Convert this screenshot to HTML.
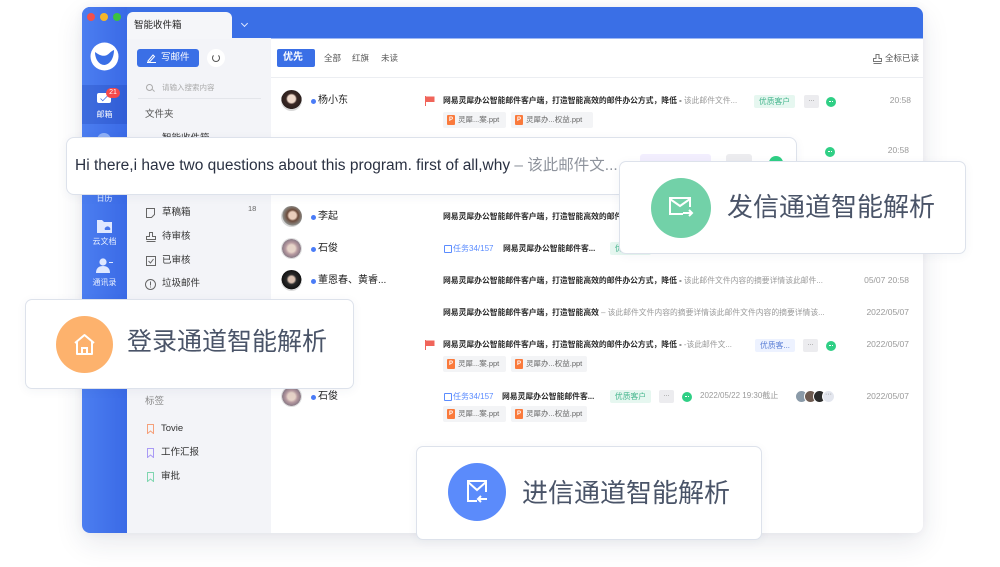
<!DOCTYPE html>
<html><head><meta charset="utf-8">
<style>
*{box-sizing:border-box;}
body{margin:0;width:1000px;height:567px;position:relative;overflow:hidden;background:#fff;font-family:"Liberation Sans","Noto Sans CJK SC",sans-serif;}
.s{position:absolute;white-space:nowrap;line-height:1;}
.av{position:absolute;width:21px;height:21px;border-radius:50%;}
.dot{position:absolute;width:5px;height:5px;border-radius:50%;background:#4a7cf7;}
.nm{position:absolute;white-space:nowrap;line-height:1;font-size:10px;color:#222;}
.sub{position:absolute;white-space:nowrap;line-height:1;font-size:7.8px;color:#2c2c2c;font-weight:bold;}
.gr{font-weight:normal;color:#9a9a9a;}
.tm{position:absolute;white-space:nowrap;line-height:1;font-size:8.5px;color:#9a9a9a;text-align:right;width:60px;}
.tag{position:absolute;height:13px;border-radius:2px;font-size:7.8px;line-height:13px;text-align:center;white-space:nowrap;}
.tg{background:#e6f7f0;color:#43b58c;}
.tb{background:#edf2ff;color:#5b7fd6;}
.more{position:absolute;width:15px;height:13px;background:#ececef;border-radius:2px;color:#888;font-size:7px;line-height:10px;text-align:center;}
.wx{position:absolute;width:10px;height:10px;border-radius:50%;background:#2fcf85;}
.wx:after{content:"";position:absolute;left:3px;top:4px;width:4px;height:2px;border-top:1px dotted #fff;}
.att{position:absolute;height:16px;background:#f3f4f6;border-radius:2px;font-size:7.5px;color:#666;line-height:16px;white-space:nowrap;padding-left:15px;}
.att:before{content:"P";position:absolute;left:4px;top:3px;width:8px;height:10px;background:#fa7a3c;border-radius:1px;color:#fff;font-size:6px;line-height:10px;text-align:center;font-weight:bold;}
.flag{position:absolute;width:10px;height:10px;}
.task{position:absolute;white-space:nowrap;line-height:1;font-size:8px;color:#5b8cff;padding-left:9px;}
.task:before{content:"";position:absolute;left:0;top:0;width:6px;height:6px;border:1px solid #5b8cff;border-radius:1px;}
.fi{position:absolute;white-space:nowrap;line-height:1;font-size:9.5px;color:#333;}
.card{position:absolute;background:#fff;border:1px solid #dde2eb;border-radius:7px;box-shadow:0 2px 10px rgba(40,60,100,.05);}
.big{position:absolute;white-space:nowrap;line-height:1;font-size:26px;color:#4a5468;}
.circ{position:absolute;border-radius:50%;}
.sbt{position:absolute;width:45px;text-align:center;font-size:8px;color:#e6eeff;line-height:1;left:82px;}
</style></head><body>

<!-- app window -->
<div style="position:absolute;left:82px;top:7px;width:841px;height:526px;border-radius:8px;overflow:hidden;background:#fff;box-shadow:0 10px 28px rgba(30,40,80,.10),0 0 10px rgba(30,40,80,.05);">
  <div style="position:absolute;left:0;top:0;width:841px;height:31px;background:#3a6fe6;"></div>
  <div style="position:absolute;left:0;top:0;width:45px;height:526px;background:linear-gradient(90deg,#4c7ef0,#3a6ae6);"></div>
  <div style="position:absolute;left:0;top:78px;width:45px;height:39px;background:rgba(20,50,160,.22);"></div>
  <div style="position:absolute;left:45px;top:31px;width:144px;height:495px;background:#f3f4f8;"></div>
  <div style="position:absolute;left:45px;top:5px;width:105px;height:27px;background:#f5f6f9;border-radius:6px 6px 0 0;"></div>
  <div style="position:absolute;left:189px;top:31px;width:652px;height:1px;background:#9db8f5;"></div>
</div>

<!-- traffic lights -->
<div class="circ" style="left:87px;top:13px;width:8px;height:8px;background:#f2504b;"></div>
<div class="circ" style="left:100px;top:13px;width:8px;height:8px;background:#f6b62a;"></div>
<div class="circ" style="left:113px;top:13px;width:8px;height:8px;background:#3cc23f;"></div>
<div class="s" style="left:134px;top:21px;font-size:9.5px;color:#222;">智能收件箱</div>
<div style="position:absolute;left:242px;top:21px;width:5px;height:5px;border-right:1px solid #dfe8ff;border-bottom:1px solid #dfe8ff;transform:rotate(45deg);"></div>

<!-- sidebar -->
<svg style="position:absolute;left:90px;top:42px;" width="29" height="29" viewBox="0 0 29 29">
  <circle cx="14.5" cy="14.5" r="14" fill="#fff"/>
  <path d="M5 10 C9 13,13 15,17 13 C19 12,21 9,24 8 C24 15,21 22,14.5 23 C9 23,5 17,5 10Z" fill="#3a6fe6"/>
</svg>
<div style="position:absolute;left:97px;top:93px;width:14px;height:10px;background:#fff;border-radius:2px;"></div>
<div style="position:absolute;left:99px;top:95px;width:10px;height:5px;border-left:1px solid #3a6ae6;border-bottom:1px solid #3a6ae6;transform:rotate(-45deg) scale(.7);"></div>
<div style="position:absolute;left:106px;top:88px;width:14px;height:10px;background:#f5484a;border-radius:5px;color:#fff;font-size:7px;line-height:10px;text-align:center;">21</div>
<div class="sbt" style="top:111px;color:#fff;">邮箱</div>
<div class="circ" style="left:97px;top:133px;width:14px;height:14px;background:#8fb0f6;"></div>
<div class="sbt" style="top:195px;">日历</div>
<svg style="position:absolute;left:97px;top:219px;" width="15" height="14" viewBox="0 0 15 14"><path d="M0 1h5l2 2h8v11H0z" fill="#dfe8ff"/><path d="M8 11a2 2 0 0 1 1-3a2.5 2.5 0 0 1 4 1a1.5 1.5 0 0 1 0 2z" fill="#4a78ec"/></svg>
<div class="sbt" style="top:238px;">云文档</div>
<svg style="position:absolute;left:96px;top:258px;" width="17" height="15" viewBox="0 0 17 15"><circle cx="7" cy="4" r="3.6" fill="#dfe8ff"/><path d="M0 15c0-5 3-7 7-7s7 2 7 7z" fill="#dfe8ff"/><rect x="13" y="4" width="4" height="1" fill="#dfe8ff"/></svg>
<div class="sbt" style="top:279px;">通讯录</div>

<!-- folder pane -->
<div style="position:absolute;left:137px;top:49px;width:62px;height:18px;background:#3a6fe6;border-radius:3px;"></div>
<svg style="position:absolute;left:147px;top:53px;" width="9" height="10" viewBox="0 0 9 10"><path d="M1 8L6 2l1.5 1.5L2.5 9H1z" fill="none" stroke="#fff" stroke-width="1"/><path d="M0 9.5h9" stroke="#fff"/></svg>
<div class="s" style="left:161px;top:53px;font-size:9.5px;color:#fff;">写邮件</div>
<div class="circ" style="left:207px;top:49px;width:18px;height:18px;background:#fff;"></div>
<div class="circ" style="left:212px;top:54px;width:8px;height:8px;border:1px solid #555;border-top-color:transparent;"></div>
<div class="circ" style="left:146px;top:84px;width:7px;height:7px;border:1px solid #aaa;"></div>
<div style="position:absolute;left:152px;top:90px;width:3px;height:1px;background:#aaa;transform:rotate(45deg);"></div>
<div class="s" style="left:162px;top:84px;font-size:7.5px;color:#aaa;">请输入搜索内容</div>
<div style="position:absolute;left:138px;top:98px;width:123px;height:1px;background:#e3e5ea;"></div>
<div class="fi" style="left:145px;top:110px;color:#555;">文件夹</div>
<div class="fi" style="left:162px;top:134px;">智能收件箱</div>

<svg style="position:absolute;left:146px;top:208px;" width="9" height="10"><path d="M0.5 0.5h8v6l-3 3h-5z" fill="none" stroke="#666"/></svg>
<div class="fi" style="left:162px;top:208px;">草稿箱</div>
<div class="s" style="left:248px;top:205px;font-size:7.5px;color:#666;">18</div>
<svg style="position:absolute;left:146px;top:232px;" width="10" height="10"><path d="M3.5 0.5h3v4h3v3h-9v-3h3z M0.5 9.5h9" fill="none" stroke="#666"/></svg>
<div class="fi" style="left:162px;top:232px;">待审核</div>
<svg style="position:absolute;left:146px;top:256px;" width="10" height="10"><rect x="0.5" y="0.5" width="9" height="9" fill="none" stroke="#666"/><path d="M2.5 5l2 2 3-4" fill="none" stroke="#666"/></svg>
<div class="fi" style="left:162px;top:256px;">已审核</div>
<svg style="position:absolute;left:145px;top:279px;" width="11" height="11"><circle cx="5.5" cy="5.5" r="5" fill="none" stroke="#666"/><path d="M5.5 2.5v4M5.5 7.5v1" stroke="#666"/></svg>
<div class="fi" style="left:162px;top:279px;">垃圾邮件</div>

<div class="fi" style="left:145px;top:397px;color:#888;">标签</div>
<svg style="position:absolute;left:147px;top:424px;" width="7" height="10"><path d="M0.5 0.5h6v9l-3-2.5-3 2.5z" fill="none" stroke="#f5a07a"/></svg>
<div class="fi" style="left:161px;top:424px;">Tovie</div>
<svg style="position:absolute;left:147px;top:448px;" width="7" height="10"><path d="M0.5 0.5h6v9l-3-2.5-3 2.5z" fill="none" stroke="#a99af5"/></svg>
<div class="fi" style="left:161px;top:448px;">工作汇报</div>
<svg style="position:absolute;left:147px;top:472px;" width="7" height="10"><path d="M0.5 0.5h6v9l-3-2.5-3 2.5z" fill="none" stroke="#7fd6b0"/></svg>
<div class="fi" style="left:161px;top:472px;">审批</div>

<!-- main tabs -->
<div style="position:absolute;left:277px;top:49px;width:38px;height:18px;background:#3a6fe6;border-radius:2px;"></div>
<div class="s" style="left:283px;top:53px;font-size:10px;color:#fff;font-weight:bold;">优先</div>
<div class="s" style="left:324px;top:54px;font-size:8.5px;color:#555;">全部</div>
<div class="s" style="left:352px;top:54px;font-size:8.5px;color:#555;">红旗</div>
<div class="s" style="left:381px;top:54px;font-size:8.5px;color:#555;">未读</div>
<svg style="position:absolute;left:873px;top:54px;" width="9" height="10"><path d="M3 0.5h3v4h2.5v3h-8v-3H3z M0.5 9.5h8" fill="none" stroke="#777"/></svg>
<div class="s" style="left:885px;top:54px;font-size:8.5px;color:#555;">全标已读</div>
<div style="position:absolute;left:271px;top:77px;width:652px;height:1px;background:#eceef2;"></div>

<!-- row1 -->
<div class="av" style="left:281px;top:90px;background:radial-gradient(circle at 50% 42%,#efd9cb 0 24%,#3a2824 34%,#2b1f1d 62%,#d9d9d9 64%);"></div>
<div class="dot" style="left:311px;top:99px;"></div>
<div class="nm" style="left:318px;top:96px;">杨小东</div>
<svg class="flag" style="left:425px;top:96px;"><path d="M0.5 0v10" stroke="#f0645a"/><path d="M1 0.5h8.5v5.5H1z" fill="#f0645a"/></svg>
<div class="sub" style="left:443px;top:97px;">网易灵犀办公智能邮件客户端，打造智能高效的邮件办公方式，降低 - <span class="gr">该此邮件文件...</span></div>
<div class="tag tg" style="left:754px;top:95px;width:41px;">优质客户</div>
<div class="more" style="left:804px;top:95px;">...</div>
<div class="wx" style="left:826px;top:97px;"></div>
<div class="tm" style="left:851px;top:96px;">20:58</div>
<div class="att" style="left:443px;top:112px;width:63px;">灵犀...案.ppt</div>
<div class="att" style="left:511px;top:112px;width:82px;">灵犀办...权益.ppt</div>

<!-- row2 -->
<div class="wx" style="left:825px;top:147px;"></div>
<div class="tm" style="left:849px;top:146px;">20:58</div>

<!-- row3 -->
<div class="av" style="left:281px;top:206px;background:radial-gradient(circle at 55% 45%,#e9cdbb 0 22%,#6b4a3a 34%,#8a8a86 60%,#d6d6d6 64%);"></div>
<div class="dot" style="left:311px;top:215px;"></div>
<div class="nm" style="left:318px;top:212px;">李起</div>
<div class="sub" style="left:443px;top:213px;">网易灵犀办公智能邮件客户端，打造智能高效的邮件办公方式，降低 - <span class="gr">该此邮件文件...</span></div>

<!-- row4 -->
<div class="av" style="left:281px;top:238px;background:radial-gradient(circle at 50% 50%,#e6d3c8 0 25%,#b79aa0 40%,#8b7a86 62%,#ddd 64%);"></div>
<div class="dot" style="left:311px;top:247px;"></div>
<div class="nm" style="left:318px;top:244px;">石俊</div>
<div class="task" style="left:444px;top:245px;">任务34/157</div>
<div class="sub" style="left:503px;top:245px;">网易灵犀办公智能邮件客...</div>
<div class="tag tg" style="left:610px;top:242px;width:41px;">优质客户</div>

<!-- row5 -->
<div class="av" style="left:281px;top:270px;background:radial-gradient(circle at 50% 45%,#d9c0b0 0 20%,#2a2a2a 32%,#111 62%,#ddd 64%);"></div>
<div class="dot" style="left:311px;top:279px;"></div>
<div class="nm" style="left:318px;top:276px;">董恩春、黄睿...</div>
<div class="sub" style="left:443px;top:277px;">网易灵犀办公智能邮件客户端，打造智能高效的邮件办公方式，降低 - <span class="gr">该此邮件文件内容的摘要详情该此邮件...</span></div>
<div class="tm" style="left:849px;top:276px;">05/07 20:58</div>

<!-- row6 -->
<div class="sub" style="left:443px;top:309px;">网易灵犀办公智能邮件客户端，打造智能高效 <span class="gr">– 该此邮件文件内容的摘要详情该此邮件文件内容的摘要详情该...</span></div>
<div class="tm" style="left:849px;top:308px;">2022/05/07</div>

<!-- row7 -->
<svg class="flag" style="left:425px;top:340px;"><path d="M0.5 0v10" stroke="#f0645a"/><path d="M1 0.5h8.5v5.5H1z" fill="#f0645a"/></svg>
<div class="sub" style="left:443px;top:341px;">网易灵犀办公智能邮件客户端，打造智能高效的邮件办公方式，降低 - <span class="gr">-该此邮件文...</span></div>
<div class="tag tb" style="left:755px;top:339px;width:40px;">优质客...</div>
<div class="more" style="left:803px;top:339px;">...</div>
<div class="wx" style="left:826px;top:341px;"></div>
<div class="tm" style="left:849px;top:340px;">2022/05/07</div>
<div class="att" style="left:443px;top:356px;width:63px;">灵犀...案.ppt</div>
<div class="att" style="left:511px;top:356px;width:76px;">灵犀办...权益.ppt</div>

<!-- row8 -->
<div class="av" style="left:281px;top:386px;background:radial-gradient(circle at 50% 50%,#e6d3c8 0 25%,#b79aa0 40%,#8b7a86 62%,#ddd 64%);"></div>
<div class="dot" style="left:311px;top:395px;"></div>
<div class="nm" style="left:318px;top:392px;">石俊</div>
<div class="task" style="left:444px;top:393px;">任务34/157</div>
<div class="sub" style="left:502px;top:393px;">网易灵犀办公智能邮件客...</div>
<div class="tag tg" style="left:610px;top:390px;width:41px;">优质客户</div>
<div class="more" style="left:659px;top:390px;">...</div>
<div class="wx" style="left:682px;top:392px;"></div>
<div class="s" style="left:700px;top:392px;font-size:8px;color:#9a9a9a;">2022/05/22 19:30截止</div>
<div class="circ" style="left:795px;top:390px;width:13px;height:13px;background:#8a9aa8;border:1px solid #fff;"></div>
<div class="circ" style="left:804px;top:390px;width:13px;height:13px;background:#6d5a50;border:1px solid #fff;"></div>
<div class="circ" style="left:813px;top:390px;width:13px;height:13px;background:#2b2b2b;border:1px solid #fff;"></div>
<div class="circ" style="left:822px;top:390px;width:13px;height:13px;background:#e3e6ee;border:1px solid #fff;color:#888;font-size:7px;line-height:8px;text-align:center;">···</div>
<div class="tm" style="left:849px;top:392px;">2022/05/07</div>
<div class="att" style="left:443px;top:406px;width:63px;">灵犀...案.ppt</div>
<div class="att" style="left:511px;top:406px;width:76px;">灵犀办...权益.ppt</div>

<!-- Hi there callout -->
<div class="card" style="left:66px;top:137px;width:731px;height:58px;border-radius:8px;"></div>
<div class="s" style="left:75px;top:158px;font-size:15.5px;color:#2a3142;">Hi there,i have two questions about this program. first of all,why <span style="color:#8e939c;">– 该此邮件文...</span></div>
<div style="position:absolute;left:640px;top:154px;width:71px;height:24px;background:#f2eefe;border-radius:3px;"></div>
<div style="position:absolute;left:726px;top:154px;width:26px;height:24px;background:#ececef;border-radius:3px;"></div>
<div class="circ" style="left:769px;top:156px;width:14px;height:14px;background:#2fcf85;"></div>

<!-- 发信 callout -->
<div class="card" style="left:619px;top:161px;width:347px;height:93px;"></div>
<div class="circ" style="left:651px;top:178px;width:60px;height:60px;background:#72d1a8;"></div>
<svg style="position:absolute;left:668px;top:196px;" width="26" height="22" viewBox="0 0 26 22"><path d="M15 18H2V2h20v9" fill="none" stroke="#fff" stroke-width="2"/><path d="M2 3l10 7 10-7" fill="none" stroke="#fff" stroke-width="2"/><path d="M15 17h9M21 14l3 3-3 3" fill="none" stroke="#fff" stroke-width="2"/></svg>
<div class="big" style="left:727px;top:194px;">发信通道智能解析</div>

<!-- 登录 callout -->
<div class="card" style="left:25px;top:299px;width:329px;height:90px;"></div>
<div class="circ" style="left:56px;top:316px;width:57px;height:57px;background:#fdb26d;"></div>
<svg style="position:absolute;left:73px;top:333px;" width="23" height="22" viewBox="0 0 23 22"><path d="M2 10L11.5 2 21 10M4 8.5V21h15V8.5" fill="none" stroke="#fff" stroke-width="2" stroke-linejoin="round"/><path d="M9 21v-6h5v6" fill="none" stroke="#fff" stroke-width="2"/></svg>
<div class="big" style="left:127px;top:330px;font-size:25px;">登录通道智能解析</div>

<!-- 进信 callout -->
<div class="card" style="left:416px;top:446px;width:346px;height:94px;"></div>
<div class="circ" style="left:448px;top:463px;width:58px;height:58px;background:#5b8bfb;"></div>
<svg style="position:absolute;left:466px;top:479px;" width="24" height="26" viewBox="0 0 24 26"><path d="M11 22H2V2h18v11" fill="none" stroke="#fff" stroke-width="2"/><path d="M2 3l9 8 9-8" fill="none" stroke="#fff" stroke-width="2"/><path d="M21 20h-9M15 17l-3 3 3 3" fill="none" stroke="#fff" stroke-width="2"/></svg>
<div class="big" style="left:522px;top:480px;">进信通道智能解析</div>

</body></html>
